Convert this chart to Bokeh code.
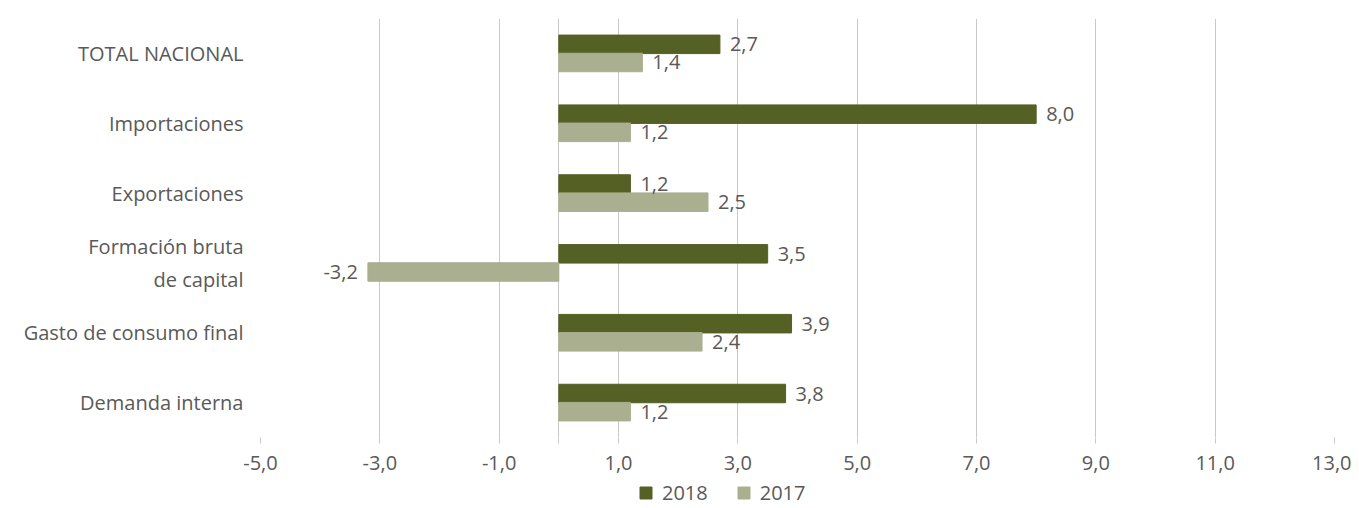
from bokeh.plotting import figure
from bokeh.layouts import column
from bokeh.models import (ColumnDataSource, FactorRange, FixedTicker, Legend, LegendItem, Range1d)
from bokeh.core.properties import value
from bokeh.transform import dodge
from bokeh.embed import file_html
from bokeh.resources import INLINE

categories = ["TOTAL NACIONAL", "Importaciones", "Exportaciones",
              "Formación bruta\nde capital", "Gasto de consumo final", "Demanda interna"]
values_2018 = [2.7, 8.0, 1.2, 3.5, 3.9, 3.8]
values_2017 = [1.4, 1.2, 2.5, -3.2, 2.4, 1.2]
series = ["2018", "2017"]
x_ticks = [-5, -3, -1, 0, 1, 3, 5, 7, 9, 11, 13]

FONT = "Open Sans"
FS = "20px"
TXT = "#595959"
C2018 = "#556024"
C2017 = "#A9AF8F"
GRID = "#C9C9C9"

def fmt(v):
    return ("%.1f" % v).replace(".", ",")

src = ColumnDataSource(dict(
    cat=categories,
    v18=values_2018,
    v17=values_2017,
))

p = figure(width=1351, height=480, output_backend="svg", toolbar_location=None,
           y_range=FactorRange(factors=list(reversed(categories)), range_padding=0),
           x_range=(-5, 13),
           min_border_left=260, min_border_right=17, min_border_top=18, min_border_bottom=43)
p.outline_line_color = None

r18 = p.hbar(y=dodge("cat", 0.13, range=p.y_range), left=0, right="v18", height=0.265,
             color=C2018, source=src)
r17 = p.hbar(y=dodge("cat", -0.13, range=p.y_range), left=0, right="v17", height=0.265,
             color=C2017, source=src)

# value labels: positive values to the right of the bar end, negative to the left
for vals, off in [(values_2018, 0.13), (values_2017, -0.13)]:
    pos = [i for i, v in enumerate(vals) if v >= 0]
    neg = [i for i, v in enumerate(vals) if v < 0]
    for idx, align, xo in [(pos, "left", 10), (neg, "right", -10)]:
        if not idx:
            continue
        s = ColumnDataSource(dict(cat=[categories[i] for i in idx],
                                  v=[vals[i] for i in idx],
                                  l=[fmt(vals[i]) for i in idx]))
        p.text(x="v", y=dodge("cat", off, range=p.y_range), text="l", source=s,
               text_align=align, x_offset=xo, text_baseline="middle",
               text_font=value(FONT), text_font_size=FS, text_color=TXT)

# x axis
xa = p.xaxis[0]
xa.ticker = FixedTicker(ticks=x_ticks)
xa.major_label_overrides = {t: ("" if t == 0 else fmt(t)) for t in x_ticks}
xa.axis_line_color = None
xa.major_tick_line_color = GRID
xa.major_tick_in = 0
xa.major_tick_out = 6
xa.minor_tick_line_color = None
xa.major_label_text_font = FONT
xa.major_label_text_font_size = FS
xa.major_label_text_color = TXT
xa.major_label_standoff = 12

p.xgrid.ticker = FixedTicker(ticks=x_ticks)
p.xgrid.grid_line_color = GRID
p.ygrid.grid_line_color = None

ya = p.yaxis[0]
ya.axis_line_color = None
ya.major_tick_line_color = None
ya.minor_tick_line_color = None
ya.major_label_text_font = FONT
ya.major_label_text_font_size = FS
ya.major_label_text_color = TXT
ya.major_label_standoff = 11

# legend in a thin figure below the chart (its frame is aligned with the chart's frame)
lg = figure(width=1351, height=26, output_backend="svg", toolbar_location=None,
            x_range=Range1d(0, 1), y_range=Range1d(0, 1),
            x_axis_type=None, y_axis_type=None,
            min_border_left=260, min_border_right=17, min_border_top=0, min_border_bottom=0)
lg.outline_line_color = None
lg.xgrid.visible = False
lg.ygrid.visible = False
# swatch renderers kept outside the visible range
d18 = lg.hbar(y=[-10], left=[0], right=[0.1], height=0.5, color=C2018)
d17 = lg.hbar(y=[-10], left=[0], right=[0.1], height=0.5, color=C2017)
legend = Legend(items=[LegendItem(label=series[0], renderers=[d18]),
                       LegendItem(label=series[1], renderers=[d17])],
                orientation="horizontal", location=(378, 0),
                label_text_font=FONT, label_text_font_size=FS, label_text_color=TXT,
                glyph_width=15, glyph_height=15, spacing=28, padding=0, margin=0,
                label_standoff=9,
                border_line_color=None, background_fill_alpha=0)
lg.add_layout(legend, "center")

layout = column(p, lg, spacing=0)
open("out.html", "w").write(file_html(layout, INLINE))
